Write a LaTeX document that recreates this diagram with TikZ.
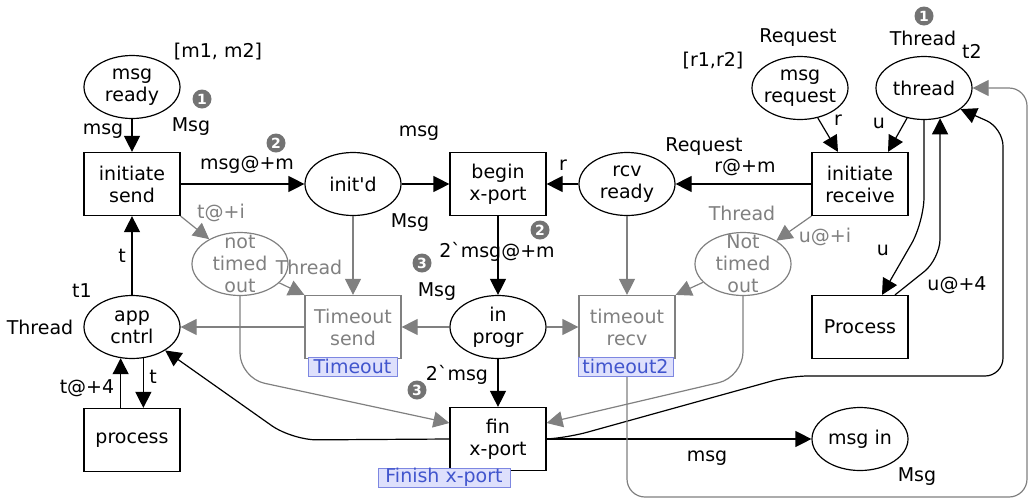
\documentclass[tikz,border=0pt]{standalone}
\usepackage{fontspec}
\setmainfont{DejaVu Sans}[Ligatures=TeXOff]
\usetikzlibrary{shapes.geometric,arrows.meta}
\definecolor{gr}{RGB}{128,128,128}
\definecolor{badgec}{RGB}{115,115,115}
\definecolor{tagfill}{RGB}{222,224,252}
\definecolor{tagdraw}{RGB}{125,135,225}
\definecolor{tagtext}{RGB}{65,85,205}
\begin{document}
\begin{tikzpicture}[x=1pt,y=-1pt,
  every node/.style={font=\fontsize{19}{22}\selectfont},
  ptext/.style={align=center, inner sep=0pt},
  place/.style={ellipse, draw, line width=1.2pt, minimum width=96pt, minimum height=63pt, inner sep=0pt, label={[ptext]center:{#1}}},
  gplace/.style={ellipse, draw=gr, line width=1.2pt, minimum width=96pt, minimum height=63pt, inner sep=0pt, label={[ptext,text=gr]center:{#1}}},
  trans/.style={rectangle, draw, line width=1.2pt, minimum width=96pt, minimum height=63pt, align=center, inner sep=0pt},
  gtrans/.style={trans, draw=gr, text=gr},
  arc/.style={line width=1.2pt, -{Triangle[length=16pt,width=16pt]}},
  garc/.style={arc, draw=gr, color=gr},
  lbl/.style={inner sep=0pt},
  glbl/.style={lbl, text=gr},
  badge/.style={circle, fill=badgec, text=white, minimum size=19pt, inner sep=0pt, font=\fontsize{14}{14}\selectfont\bfseries},
  tag/.style={draw=tagdraw, fill=tagfill, text=tagtext, line width=0.8pt, inner sep=0pt, minimum height=19pt}
]
\useasboundingbox (0,0) rectangle (1029,499);
% places and transitions
\node[place={msg\\ready}] (msgready) at (132,87) {};
\node[trans] (isend) at (132,184) {initiate\\send};
\node[place={init'd}] (initd) at (353,184) {};
\node[trans] (bxport) at (498,184) {begin\\x-port};
\node[place={rcv\\ready}] (rcvready) at (627,184) {};
\node[trans] (irecv) at (860,184) {initiate\\receive};
\node[place={msg\\request}] (msgreq) at (800,88) {};
\node[place={thread}] (thread) at (924,88) {};
\node[trans] (Proc) at (860,327) {Process};
\node[gplace={not\\timed\\out}] (ntoL) at (240,264) {};
\node[gplace={Not\\timed\\out}] (ntoR) at (743,264) {};
\node[place={app\\cntrl}] (appc) at (132,327) {};
\node[gtrans] (tosend) at (353,327) {Timeout\\send};
\node[place={in\\progr}] (inprogr) at (498,327) {};
\node[gtrans] (torecv) at (627,327) {timeout\\recv};
\node[trans] (finx) at (498,439) {fin\\x-port};
\node[place={msg in}] (msgin) at (860,439) {};
\node[trans] (proc) at (132,440) {process};

% black arcs
\draw[arc] (msgready) -- (isend);
\draw[arc] (isend) -- (initd);
\draw[arc] (initd) -- (bxport);
\draw[arc] (rcvready) -- (bxport);
\draw[arc] (irecv) -- (rcvready);
\draw[arc] (msgreq) -- ([xshift=-22pt]irecv.north);
\draw[arc] (thread) -- ([xshift=28pt]irecv.north);
\draw[arc, rounded corners=25pt] (thread.south) -- (924,222) -- ([xshift=22pt]Proc.north);
\draw[arc, rounded corners=20pt] ([xshift=35pt]Proc.north) -- (940,259) -- (thread.-62);
\draw[arc] (bxport) -- (inprogr);
\draw[arc] (inprogr) -- (finx);
\draw[arc] (finx) -- (msgin);
\draw[arc, rounded corners=18pt] (finx.east) -- (570,437) -- (790,376) -- (1003,376) -- (1003,128) -- (thread.-30);
\draw[arc] (appc) -- (isend);
\draw[arc] (appc.-70) -- (appc.-70 |- proc.north);
\draw[arc] (appc.-110 |- proc.north) -- (appc.-110);
\draw[arc, rounded corners=25pt] (finx.west) -- (292,440) -- (appc);

% gray arcs
\draw[garc] (isend.south east) -- (ntoL);
\draw[garc] (ntoL) -- (tosend.north west);
\draw[garc, rounded corners=25pt] (ntoL.south) -- (240,378) -- ([yshift=16pt]finx.west);
\draw[garc] (initd) -- (tosend);
\draw[garc] (inprogr) -- (tosend);
\draw[garc] (tosend) -- (appc);
\draw[garc] (rcvready) -- (torecv);
\draw[garc] (inprogr) -- (torecv);
\draw[garc] (irecv.south west) -- (ntoR);
\draw[garc] (ntoR) -- (torecv.north east);
\draw[garc, rounded corners=25pt] (ntoR.south) -- (743,377) -- ([yshift=16pt]finx.east);
\draw[garc, rounded corners=18pt] (torecv.south) -- (627,497) -- (1027,497) -- (1027,88) -- (thread.east);

% tags
\node[tag, minimum width=89pt] (tagA) at (352.5,366.5) {Timeout};
\node[tag, minimum width=95pt] (tagB) at (625.5,366.5) {timeout2};
\node[tag, minimum width=132pt] (tagC) at (444,477.5) {Finish x-port};

% inscriptions
\node[lbl] (t1) at (218,52) {[m1, m2]};
\node[lbl] (t2) at (103,131) {msg};
\node[lbl] (t3) at (191,127) {Msg};
\node[lbl] (t4) at (247,165) {msg@+m};
\node[lbl] (t5) at (419,133) {msg};
\node[lbl] (t6) at (410,223) {Msg};
\node[lbl] (t7) at (563,165) {r};
\node[lbl] (t8) at (704,147) {Request};
\node[lbl] (t9) at (745,167) {r@+m};
\node[lbl] (t10) at (798,38) {Request};
\node[lbl] (t11) at (713,61) {[r1,r2]};
\node[lbl] (t12) at (923,38) {Thread};
\node[lbl] (t13) at (972,51) {t2};
\node[lbl] (t14) at (838,120) {r};
\node[lbl] (t15) at (879,123) {u};
\node[glbl] (t16) at (742,213) {Thread};
\node[glbl] (t17) at (825,237) {u@+i};
\node[lbl] (t18) at (883,250) {u};
\node[lbl] (t19) at (957,285) {u@+4};
\node[lbl] (t20) at (707,458) {msg};
\node[lbl] (t21) at (917,477) {Msg};
\node[lbl] (t22) at (497,252) {2\char"60 msg@+m};
\node[lbl] (t23) at (437,292) {Msg};
\node[lbl] (t24) at (457,375) {2\char"60 msg};
\node[glbl] (t25) at (221,213) {t@+i};
\node[glbl] (t26) at (309,267) {Thread};
\node[lbl] (t27) at (122,256) {t};
\node[lbl] (t28) at (82,291) {t1};
\node[lbl] (t29) at (40,327) {Thread};
\node[lbl] (t30) at (87,388) {t@+4};
\node[lbl] (t31) at (153,377) {t};

% token badges
\node[badge] (b1) at (202,99) {1};
\node[badge] (b2) at (276,143) {2};
\node[badge] (b3) at (540,230) {2};
\node[badge] (b4) at (422,263) {3};
\node[badge] (b5) at (417,390) {3};
\node[badge] (b6) at (924,16) {1};
\end{tikzpicture}
\end{document}
